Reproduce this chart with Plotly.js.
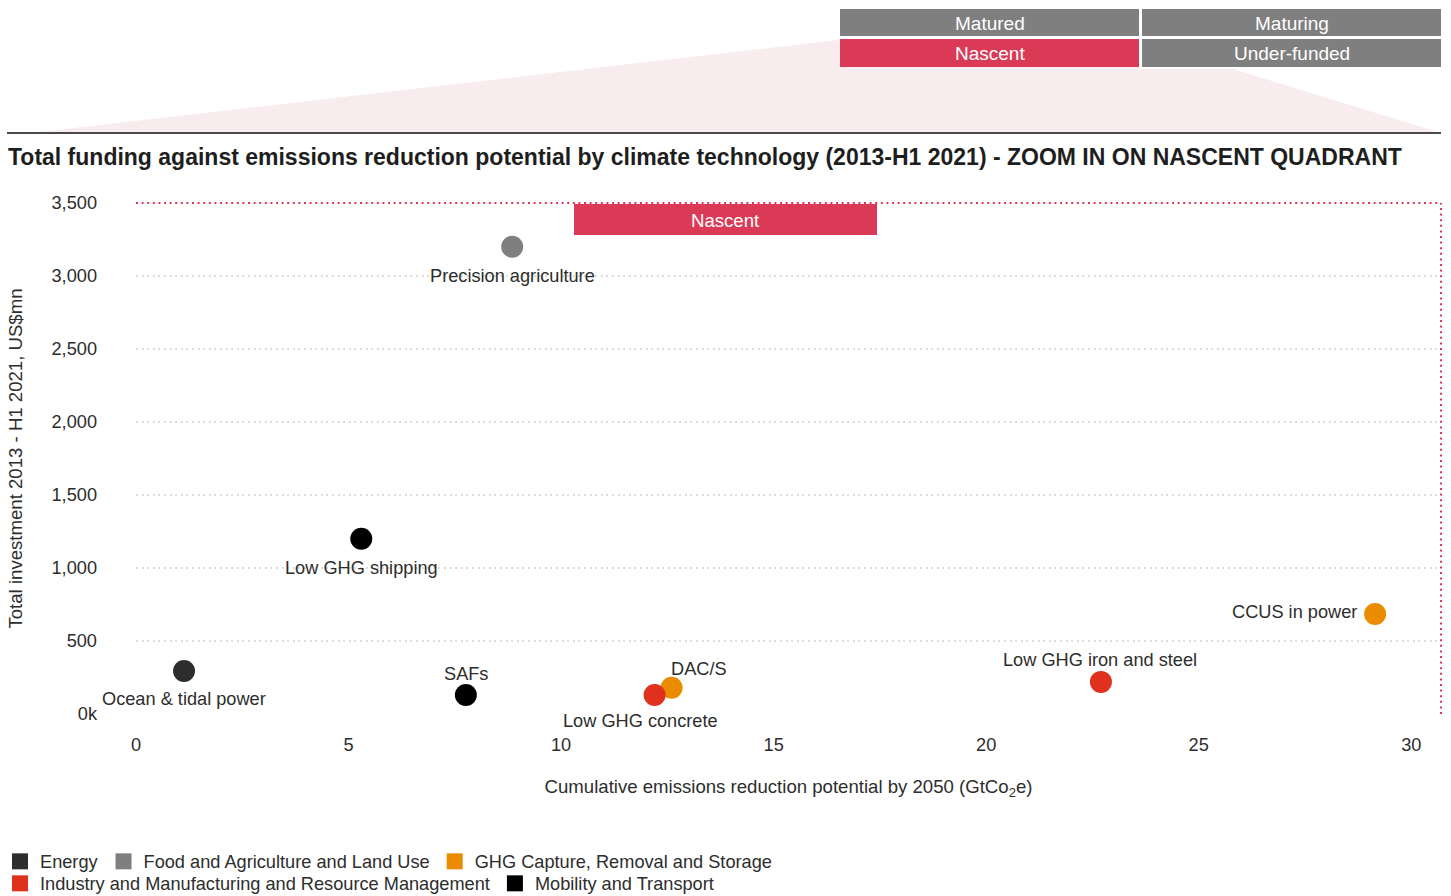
<!DOCTYPE html>
<html>
<head>
<meta charset="utf-8">
<script src="https://cdn.plot.ly/plotly-3.0.1.min.js"></script>
<style>
  html, body { margin: 0; padding: 0; background: #ffffff; }
  #chart { width: 1451px; height: 896px; }
</style>
</head>
<body>
<div id="chart"></div>
<script>
// ---------- data ----------
const techNames = ["Precision agriculture", "Low GHG shipping", "Ocean & tidal power", "SAFs",
                   "DAC/S", "Low GHG concrete", "Low GHG iron and steel", "CCUS in power"];
const reductionPotential = [8.85, 5.3, 1.13, 7.76, 12.6, 12.2, 22.7, 29.15];   // GtCO2e
const totalInvestment   = [3200, 1200, 295, 130, 180, 130, 220, 685];          // US$mn
const techCategory = ["Food and Agriculture and Land Use", "Mobility and Transport", "Energy",
                      "Mobility and Transport", "GHG Capture, Removal and Storage",
                      "Industry and Manufacturing and Resource Management",
                      "Industry and Manufacturing and Resource Management",
                      "GHG Capture, Removal and Storage"];

const categories = ["Energy", "Food and Agriculture and Land Use", "GHG Capture, Removal and Storage",
                    "Industry and Manufacturing and Resource Management", "Mobility and Transport"];
const categoryColors = ["#2d2d2d", "#7f7f7f", "#eb8c00", "#e0301e", "#000000"];
const legendGroupOf = ["legend", "legend", "legend", "legend2", "legend2"];

const yTickVals = [0, 500, 1000, 1500, 2000, 2500, 3000, 3500];
const yTickText = ["0k", "500", "1,000", "1,500", "2,000", "2,500", "3,000", "3,500"];
const xTickVals = [0, 5, 10, 15, 20, 25, 30];

const quadrantLabels = ["Matured", "Maturing", "Nascent", "Under-funded"];

// ---------- label placement (styling, pixels relative to marker) ----------
const labelStyle = {
  "Precision agriculture":  { dx: 0,   dy: -29, anchor: "center" },
  "Low GHG shipping":       { dx: 0,   dy: -29, anchor: "center" },
  "Ocean & tidal power":    { dx: 0,   dy: -28, anchor: "center" },
  "SAFs":                   { dx: 0,   dy: 21,  anchor: "center" },
  "DAC/S":                  { dx: -3,  dy: 19,  anchor: "left" },
  "Low GHG concrete":       { dx: -14, dy: -26, anchor: "center" },
  "Low GHG iron and steel": { dx: -1,  dy: 22,  anchor: "center" },
  "CCUS in power":          { dx: -16, dy: 2,   anchor: "right" }
};

// ---------- styling helpers ----------
const FONT = "'Liberation Sans', Arial, Helvetica, sans-serif";
const TXT = "#2d2d2d";
const RED = "#db3a57";
const GREY = "#7f7f7f";
const W = 1451, H = 896;
const M = { l: 136, r: 10, t: 203, b: 182, pad: 0 };
const PLW = W - M.l - M.r, PLH = H - M.t - M.b;
const fx = px => (px - M.l) / PLW;
const fy = py => (H - M.b - py) / PLH;
const DOTS = "2px,3.6px";

const colorOf = c => categoryColors[categories.indexOf(c)];

const traces = [];
traces.push({
  type: "scatter",
  mode: "markers",
  x: reductionPotential,
  y: totalInvestment,
  text: techNames,
  marker: { size: 22, color: techCategory.map(colorOf), line: { width: 0 } },
  showlegend: false,
  hovertemplate: "%{text}<br>%{x} GtCO2e<br>%{y} US$mn<extra></extra>",
  cliponaxis: false
});
categories.forEach((c, i) => {
  traces.push({
    type: "scatter", mode: "markers",
    x: [null], y: [null],
    name: c,
    legend: legendGroupOf[i],
    marker: { symbol: "square", size: 16, color: categoryColors[i] },
    showlegend: true,
    hoverinfo: "skip"
  });
});

// ---------- annotations: point labels ----------
const annotations = techNames.map((n, i) => {
  const s = labelStyle[n];
  return {
    xref: "x", yref: "y", x: reductionPotential[i], y: totalInvestment[i],
    text: n, showarrow: false, xanchor: s.anchor, yanchor: "middle",
    xshift: s.dx, yshift: s.dy,
    font: { family: FONT, size: 18.2, color: TXT }
  };
});

// ---------- decorative shapes ----------
const shapes = [];
const poly = [[30,133],[838,40],[1139,40],[1139,69],[1233,69],[1441,133]];
shapes.push({
  type: "path", xref: "paper", yref: "paper", layer: "below",
  path: "M" + poly.map(p => fx(p[0]) + "," + fy(p[1])).join(" L") + " Z",
  fillcolor: "#f9ecee", line: { width: 0 }
});
shapes.push({ type: "line", xref: "paper", yref: "paper",
  x0: fx(7), x1: fx(1441), y0: fy(133), y1: fy(133), line: { color: "#4a4a4a", width: 2 } });
const boxes = [
  { x0: 840, x1: 1139, y0: 9, y1: 36, c: GREY, t: quadrantLabels[0] },
  { x0: 1142, x1: 1441, y0: 9, y1: 36, c: GREY, t: quadrantLabels[1] },
  { x0: 840, x1: 1139, y0: 39, y1: 67, c: RED, t: quadrantLabels[2] },
  { x0: 1142, x1: 1441, y0: 39, y1: 67, c: GREY, t: quadrantLabels[3] }
];
boxes.forEach(b => {
  shapes.push({ type: "rect", xref: "paper", yref: "paper",
    x0: fx(b.x0), x1: fx(b.x1), y0: fy(b.y0), y1: fy(b.y1),
    fillcolor: b.c, line: { width: 0 } });
  annotations.push({ xref: "paper", yref: "paper", x: fx((b.x0 + b.x1) / 2), y: fy((b.y0 + b.y1) / 2 + 0.5),
    text: b.t, showarrow: false, xanchor: "center", yanchor: "middle",
    font: { family: FONT, size: 19, color: "#ffffff" } });
});
// nascent quadrant frame (red dotted top and right)
shapes.push({ type: "line", xref: "paper", yref: "paper", x0: 0, x1: 1, y0: 1, y1: 1,
  line: { color: RED, width: 2, dash: DOTS } });
shapes.push({ type: "line", xref: "paper", yref: "paper", x0: 1, x1: 1, y0: 0, y1: 1,
  line: { color: RED, width: 2, dash: DOTS } });
// nascent label inside plot
shapes.push({ type: "rect", xref: "paper", yref: "paper",
  x0: fx(574), x1: fx(877), y0: fy(235), y1: fy(204), fillcolor: RED, line: { width: 0 } });
annotations.push({ xref: "paper", yref: "paper", x: fx(725.5), y: fy(220.5), text: quadrantLabels[2],
  showarrow: false, xanchor: "center", yanchor: "middle", font: { family: FONT, size: 18.6, color: "#ffffff" } });

const layout = {
  width: W, height: H,
  margin: M,
  paper_bgcolor: "#ffffff", plot_bgcolor: "#ffffff",
  font: { family: FONT, size: 18, color: TXT },
  title: {
    text: "<b>Total funding against emissions reduction potential by climate technology (2013-H1 2021) - ZOOM IN ON NASCENT QUADRANT</b>",
    font: { family: FONT, size: 23, color: "#1e1e1e" },
    xref: "container", yref: "container", x: 8 / W, xanchor: "left", y: 1 - 157 / H, yanchor: "middle",
    automargin: false
  },
  xaxis: {
    range: [0, 30.7], tickvals: xTickVals, showgrid: false, zeroline: false, showline: false,
    automargin: false,
    ticks: "", ticklabelstandoff: 18, tickfont: { family: FONT, size: 18.2, color: TXT },
    title: { text: "Cumulative emissions reduction potential by 2050 (GtCo<sub>2</sub>e)", standoff: 25,
             font: { family: FONT, size: 18.6, color: TXT } },
    fixedrange: true
  },
  yaxis: {
    range: [0, 3500], tickvals: yTickVals, ticktext: yTickText,
    showgrid: true, gridcolor: "#dcdcdc", griddash: DOTS, gridwidth: 2,
    automargin: false,
    zeroline: false, showline: false, ticks: "", ticklabelstandoff: 38,
    tickfont: { family: FONT, size: 18.2, color: TXT },
    title: { text: "Total investment 2013 - H1 2021, US$mn", standoff: 23,
             font: { family: FONT, size: 18.6, color: TXT } },
    fixedrange: true
  },
  legend: {
    orientation: "h", xref: "container", yref: "container",
    x: 0, y: 1 - 843 / H, xanchor: "left", yanchor: "top",
    font: { family: FONT, size: 18.2, color: TXT }, itemwidth: 30, tracegroupgap: 0,
    bgcolor: "rgba(0,0,0,0)"
  },
  legend2: {
    orientation: "h", xref: "container", yref: "container",
    x: 0, y: 1 - 865 / H, xanchor: "left", yanchor: "top",
    font: { family: FONT, size: 18.2, color: TXT }, itemwidth: 30, tracegroupgap: 0,
    bgcolor: "rgba(0,0,0,0)"
  },
  shapes: shapes,
  annotations: annotations,
  showlegend: true,
  hovermode: "closest"
};

Plotly.newPlot("chart", traces, layout, { displayModeBar: false, responsive: false });
</script>
</body>
</html>
